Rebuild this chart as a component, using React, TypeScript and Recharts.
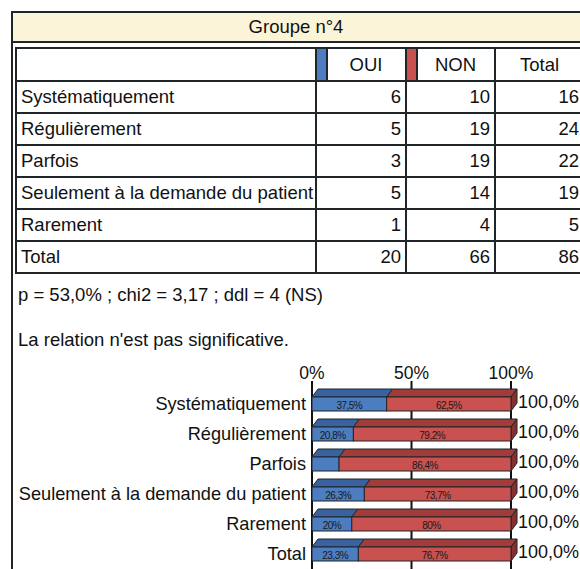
import React from 'react';
import { Bar, BarChart, CartesianGrid, LabelList, XAxis, YAxis } from 'recharts';

const categories = [
  'Systématiquement',
  'Régulièrement',
  'Parfois',
  'Seulement à la demande du patient',
  'Rarement',
  'Total',
];
const ouiCounts = [6, 5, 3, 5, 1, 20];
const nonCounts = [10, 19, 19, 14, 4, 66];
const totalCounts = [16, 24, 22, 19, 5, 86];
const ouiPct = [37.5, 20.8, 13.6, 26.3, 20, 23.3];
const nonPct = [62.5, 79.2, 86.4, 73.7, 80, 76.7];
const xTicks = [0, 50, 100];

const title = 'Groupe n°4';
const headers = ['OUI', 'NON', 'Total'];
const statsLine = 'p = 53,0% ; chi2 = 3,17 ; ddl = 4 (NS)';
const verdict = "La relation n'est pas significative.";

const BLUE = '#4c7dc0';
const BLUE_TOP = '#3a62a0';
const RED = '#c95250';
const RED_TOP = '#a13c3a';
const RED_SIDE = '#85302e';
const LINE = '#1f2528';
const FONT = '"Liberation Sans", Arial, Helvetica, sans-serif';

const chartData = categories.map((name, i) => ({
  name,
  oui: ouiPct[i],
  non: nonPct[i],
  total: ouiPct[i] + nonPct[i],
}));

// french number formatting, "20%" stays without decimals
const fr = (v: number) =>
  (Number.isInteger(v) ? String(v) : v.toFixed(1)).replace('.', ',') + '%';

const DX = 6;
const DY = 8;

const Bar3D = (props: any) => {
  const { x, y, width, height, fill, top, side } = props;
  if (width == null || width <= 0) return null;
  return (
    <g stroke={LINE} strokeWidth={1}>
      <polygon
        points={`${x},${y} ${x + DX},${y - DY} ${x + width + DX},${y - DY} ${x + width},${y}`}
        fill={top}
      />
      {side && (
        <polygon
          points={`${x + width},${y} ${x + width + DX},${y - DY} ${x + width + DX},${y + height - DY} ${x + width},${y + height}`}
          fill={RED_SIDE}
        />
      )}
      <rect x={x} y={y} width={width} height={height} fill={fill} />
    </g>
  );
};

const InnerLabel = (props: any) => {
  const { x, y, width, height, value } = props;
  if (width < 30) return null;
  return (
    <text
      x={x + width / 2}
      y={y + height / 2 + 1}
      textAnchor="middle"
      dominantBaseline="central"
      fontSize={10}
      letterSpacing={-0.5}
      fill="#1a1a1a"
      fontFamily={FONT}
    >
      {fr(value)}
    </text>
  );
};

const TotalLabel = (props: any) => {
  const { x, y, width, height, value } = props;
  return (
    <text
      x={x + width + 7}
      y={y + height / 2 - 2}
      dominantBaseline="central"
      fontSize={18}
      fill="#111"
      fontFamily={FONT}
    >
      {value.toFixed(1).replace('.', ',') + '%'}
    </text>
  );
};

const cell: React.CSSProperties = {
  border: `2px solid ${LINE}`,
  padding: '0 4px',
  whiteSpace: 'nowrap',
  overflow: 'hidden',
};

export default function App() {
  return (
    <div
      style={{
        position: 'relative',
        width: 580,
        height: 569,
        overflow: 'hidden',
        background: '#fff',
        fontFamily: FONT,
        color: '#111',
        fontSize: 18.5,
      }}
    >
      <style>{'body{margin:0;overflow:hidden}'}</style>

      {/* outer frame + title band */}
      <div
        style={{
          position: 'absolute',
          left: 11,
          top: 11,
          width: 640,
          height: 640,
          borderLeft: `2px solid ${LINE}`,
          borderTop: `2px solid ${LINE}`,
        }}
      />
      <div
        style={{
          position: 'absolute',
          left: 13,
          top: 13,
          width: 640,
          height: 28,
          background: '#fcf4d8',
          borderBottom: `2px solid ${LINE}`,
        }}
      />
      <div
        style={{
          position: 'absolute',
          left: 13,
          top: 13,
          width: 566,
          height: 28,
          lineHeight: '28px',
          textAlign: 'center',
        }}
      >
        {title}
      </div>

      <table
        style={{
          position: 'absolute',
          left: 15,
          top: 47,
          borderCollapse: 'collapse',
          tableLayout: 'fixed',
          width: 300 + 90 + 89 + 89,
          fontSize: 18.5,
        }}
      >
        <colgroup>
          <col style={{ width: 300 }} />
          <col style={{ width: 90 }} />
          <col style={{ width: 89 }} />
          <col style={{ width: 89 }} />
        </colgroup>
        <tbody>
          <tr style={{ height: 33 }}>
            <td style={cell} />
            {headers.map((h, i) => (
              <td
                key={h}
                style={{ ...cell, position: 'relative', textAlign: 'center', paddingLeft: i < 2 ? 14 : 4 }}
              >
                {i < 2 && (
                  <div
                    style={{
                      position: 'absolute',
                      left: 0,
                      top: 0,
                      bottom: 0,
                      width: 9,
                      background: i === 0 ? BLUE : RED,
                      borderRight: `2px solid ${LINE}`,
                    }}
                  />
                )}
                {h}
              </td>
            ))}
          </tr>
          {categories.map((c, i) => (
            <tr key={c} style={{ height: 32 }}>
              <td style={cell}>{c}</td>
              <td style={{ ...cell, textAlign: 'right' }}>{ouiCounts[i]}</td>
              <td style={{ ...cell, textAlign: 'right' }}>{nonCounts[i]}</td>
              <td style={{ ...cell, textAlign: 'right', paddingRight: 4 }}>{totalCounts[i]}</td>
            </tr>
          ))}
        </tbody>
      </table>

      <div style={{ position: 'absolute', left: 18, top: 284, whiteSpace: 'nowrap' }}>{statsLine}</div>
      <div style={{ position: 'absolute', left: 18, top: 329, whiteSpace: 'nowrap' }}>{verdict}</div>

      <div style={{ position: 'absolute', left: 0, top: 355 }}>
        <BarChart
          layout="vertical"
          width={580}
          height={214}
          data={chartData}
          margin={{ top: 4, right: 69, bottom: 0, left: 0 }}
          barSize={14}
        >
          <CartesianGrid vertical horizontal={false} stroke="#111" strokeWidth={2} />
          <XAxis
            type="number"
            orientation="top"
            domain={[0, 100]}
            ticks={xTicks}
            tickFormatter={(v) => `${v}%`}
            axisLine={false}
            height={30}
            tickSize={8}
            tickLine={{ stroke: '#111', strokeWidth: 2 }}
            tick={{ fontSize: 17.5, fill: '#111', fontFamily: FONT }}
            interval={0}
          />
          <YAxis
            type="category"
            dataKey="name"
            width={312}
            axisLine={false}
            tickLine={false}
            tickSize={0}
            tickMargin={6}
            tick={{ fontSize: 18.2, fill: '#111', fontFamily: FONT }}
            interval={0}
          />
          <Bar
            dataKey="oui"
            stackId="a"
            fill={BLUE}
            isAnimationActive={false}
            shape={(p: any) => <Bar3D {...p} top={BLUE_TOP} />}
          >
            <LabelList dataKey="oui" content={InnerLabel} />
          </Bar>
          <Bar
            dataKey="non"
            stackId="a"
            fill={RED}
            isAnimationActive={false}
            shape={(p: any) => <Bar3D {...p} top={RED_TOP} side />}
          >
            <LabelList dataKey="non" content={InnerLabel} />
            <LabelList dataKey="total" content={TotalLabel} />
          </Bar>
        </BarChart>
      </div>
    </div>
  );
}
